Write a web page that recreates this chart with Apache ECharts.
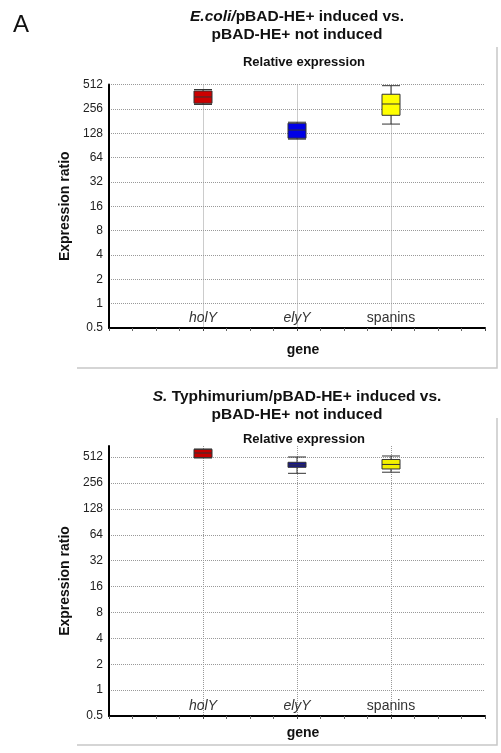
<!DOCTYPE html>
<html>
<head>
<meta charset="utf-8">
<script src="https://cdn.jsdelivr.net/npm/echarts@6/dist/echarts.min.js"></script>
<style>html,body{margin:0;padding:0;background:#fff;}#c{width:501px;height:753px;}</style>
</head>
<body>
<div id="c"></div>
<script>
// ---- data ----
var categories = ['holY', 'elyY', 'spanins'];
var italicCategory = [true, true, false];
var catPositions = [1, 2, 3];
// [min, Q1, median, Q3, max]
var ecoliHolY = [290, 300, 359, 426, 444];
var ecoliElyY = [108, 111, 140, 170, 175];
var ecoliSpanins = [166, 213, 294, 388, 495];
var stmHolY = [502, 504, 572, 632, 635];
var stmElyY = [332, 390, 415, 446, 514];
var stmSpanins = [342, 373, 421, 481, 528];
var yTickLabels = ['0.5', '1', '2', '4', '8', '16', '32', '64', '128', '256', '512'];

// ---- styles ----
var boxColorsTop = ['#cc0000', '#0000e6', '#ffff00'];
var boxColorsBottom = ['#c40000', '#15158c', '#f2f000'];
var FONT = 'Liberation Sans';

function boxData(rows, colors) {
  return rows.map(function (r, i) {
    return { value: [catPositions[i]].concat(r), itemStyle: { color: colors[i], borderColor: '#333', borderWidth: 1 } };
  });
}

function fmtY(v) {
  var r = Math.round(v * 1000) / 1000;
  var s = String(r);
  return yTickLabels.indexOf(s) >= 0 ? s : '';
}

var grids = [
  { left: 109, right: 16, top: 84.5, height: 243.5 },
  { left: 109, right: 16, top: 446, height: 270 }
];

function makeX(idx) {
  return {
    type: 'value', gridIndex: idx, min: 0, max: 4, interval: 1,
    axisLine: { show: true, onZero: false, lineStyle: { color: '#000', width: 2 } },
    axisTick: { show: true, length: 3, lineStyle: { color: '#444' } },
    minorTick: { show: true, splitNumber: 4, length: 3, lineStyle: { color: '#666' } },
    axisLabel: {
      inside: true, margin: 3, fontSize: 14, color: '#333', fontFamily: FONT,
      formatter: function (v) {
        var i = catPositions.indexOf(Math.round(v));
        if (i < 0) return '';
        return italicCategory[i] ? '{it|' + categories[i] + '}' : '{n|' + categories[i] + '}';
      },
      rich: {
        it: { fontStyle: 'italic', fontSize: 14, color: '#333', fontFamily: FONT },
        n: { fontSize: 14, color: '#333', fontFamily: FONT }
      }
    },
    splitLine: { show: true, showMinLine: false, showMaxLine: false, lineStyle: { type: 'dotted', color: '#999', width: 1 } }
  };
}

function makeY(idx, max, showMax) {
  return {
    type: 'log', logBase: 2, gridIndex: idx, min: 0.5, max: max, interval: 1,
    name: 'Expression ratio', nameLocation: 'middle', nameGap: 34,
    nameTextStyle: { fontSize: 14, fontWeight: 'bold', color: '#111', fontFamily: FONT },
    axisLine: { show: true, onZero: false, lineStyle: { color: '#000', width: 2 } },
    axisTick: { show: false },
    axisLabel: { fontSize: 12, color: '#222', margin: 6, fontFamily: FONT, formatter: fmtY, showMaxLabel: showMax },
    splitLine: { show: true, showMaxLine: showMax, lineStyle: { type: 'dotted', color: '#999', width: 1 } }
  };
}

function tText(text, x, y, size, weight, lh) {
  return {
    text: text, left: x, top: y, textAlign: 'center', padding: 0,
    textStyle: {
      fontSize: size, fontWeight: weight, color: '#111', lineHeight: lh, fontFamily: FONT,
      rich: { i: { fontStyle: 'italic', fontWeight: 'bold', fontSize: size, lineHeight: lh, color: '#111', fontFamily: FONT } }
    }
  };
}

var chart = echarts.init(document.getElementById('c'), null, { renderer: 'canvas' });
chart.setOption({
  animation: false,
  backgroundColor: '#fff',
  title: [
    { text: 'A', left: 13, top: 11, padding: 0, textStyle: { fontSize: 24, fontWeight: 'normal', color: '#111', lineHeight: 28, fontFamily: FONT } },
    tText('{i|E.coli/}pBAD-HE+ induced vs.\npBAD-HE+ not induced', 297, 8, 15.5, 'bold', 18),
    tText('Relative expression', 304, 54.5, 13, 'bold', 15),
    tText('gene', 303, 342.5, 14, 'bold', 15),
    tText('{i|S.} Typhimurium/pBAD-HE+ induced vs.\npBAD-HE+ not induced', 297, 388, 15.5, 'bold', 18),
    tText('Relative expression', 304, 431.5, 13, 'bold', 15),
    tText('gene', 303, 725.5, 14, 'bold', 15)
  ],
  graphic: [
    { type: 'polyline', shape: { points: [[497, 47], [497, 368], [77, 368]] }, style: { stroke: '#c8c8c8', lineWidth: 1.5, fill: null } },
    { type: 'polyline', shape: { points: [[497, 418], [497, 745], [77, 745]] }, style: { stroke: '#c8c8c8', lineWidth: 1.5, fill: null } }
  ],
  grid: grids,
  xAxis: [makeX(0), makeX(1)],
  yAxis: [makeY(0, 512, true), makeY(1, 690, false)],
  series: [
    { type: 'boxplot', xAxisIndex: 0, yAxisIndex: 0, boxWidth: [18, 18], data: boxData([ecoliHolY, ecoliElyY, ecoliSpanins], boxColorsTop) },
    { type: 'boxplot', xAxisIndex: 1, yAxisIndex: 1, boxWidth: [18, 18], data: boxData([stmHolY, stmElyY, stmSpanins], boxColorsBottom) }
  ]
});
</script>
</body>
</html>
